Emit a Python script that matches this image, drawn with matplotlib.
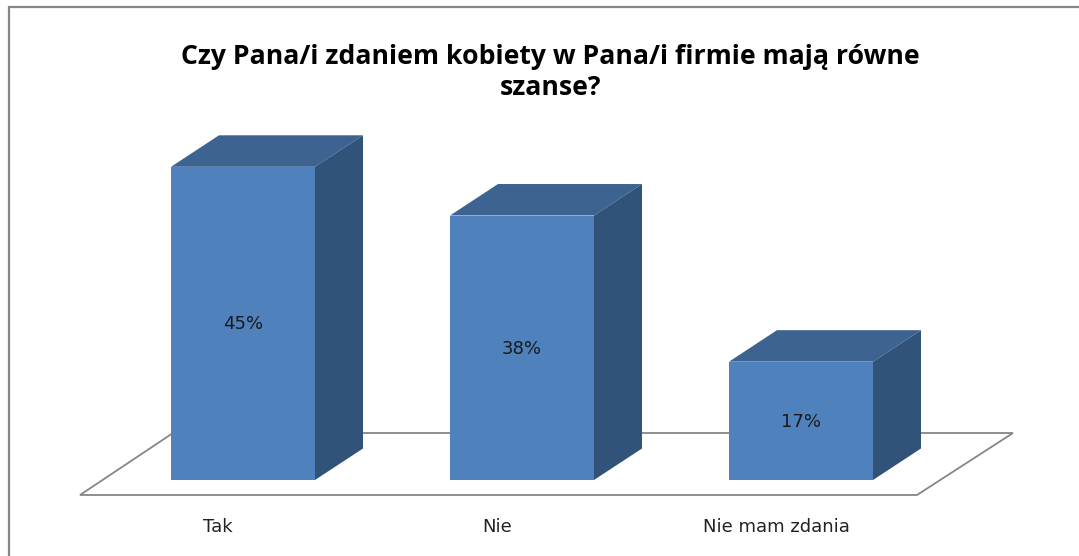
import matplotlib
matplotlib.use("Agg")
import matplotlib.pyplot as plt
from matplotlib.patches import Polygon

plt.rcParams["font.family"] = ["DejaVu Sans"]

# Values
categories = ["Tak", "Nie", "Nie mam zdania"]
values = [45, 38, 17]
title = "Czy Pana/i zdaniem kobiety w Pana/i firmie mają równe\nszanse?"

W, H = 1079, 556

# Scale: one category step = 279 px, one percent = 6.96 px
step_px = 279.0
unit_px = 6.96
x0_px = 243.0
y0_px = 480.0

bar_w = 144.0 / step_px
depth_x = 48.0 / step_px
depth_y = 31.5 / unit_px

FRONT = "#4f81bd"
TOP = "#3d6390"
SIDE = "#325379"
EDGE = "#868686"

fig = plt.figure(figsize=(W / 100, H / 100), dpi=100, facecolor="white")
ax = fig.add_axes([0, 0, 1, 1])
ax.set_xlim(-x0_px / step_px, (W - x0_px) / step_px)
ax.set_ylim(-(H - y0_px) / unit_px, y0_px / unit_px)
ax.axis("off")


def px(x, y):
    # pixel position of the picture -> data coordinates
    return (x - x0_px) / step_px, (y0_px - y) / unit_px


# Outer chart frame: only left and top show, the picture is cropped on the others
frame = [px(9, H + 5), px(9, 7), px(W + 5, 7)]
ax.plot(*zip(*frame), color=EDGE, lw=1.6, zorder=1, solid_joinstyle="miter")

# Floor of the 3D chart
floor = [px(80, 495), px(917, 495), px(1013, 433), px(173, 433)]
ax.add_patch(Polygon(floor, closed=True, fc="white", ec=EDGE, lw=1.3, zorder=2))

# Bars: front, top and side faces
for i, (cat, val) in enumerate(zip(categories, values)):
    l = i - bar_w / 2
    r = i + bar_w / 2
    front = [(l, 0), (r, 0), (r, val), (l, val)]
    top = [(l, val), (r, val), (r + depth_x, val + depth_y), (l + depth_x, val + depth_y)]
    side = [(r, 0), (r + depth_x, depth_y), (r + depth_x, val + depth_y), (r, val)]
    ax.add_patch(Polygon(front, closed=True, fc=FRONT, ec="none", zorder=3))
    ax.add_patch(Polygon(top, closed=True, fc=TOP, ec="none", zorder=3))
    ax.add_patch(Polygon(side, closed=True, fc=SIDE, ec="none", zorder=3))
    ax.text(i, val / 2 - 1 / unit_px, f"{val}%", ha="center", va="center",
            fontsize=13, color="#1a1a1a", zorder=4)
    ax.text(i - 25 / step_px, px(0, 527)[1], cat,
            ha="center", va="center", fontsize=13, color="#222222", zorder=4)

# Title
ax.text(*px(550, 72.5), title, ha="center", va="center", fontsize=19.2,
        fontweight="bold", family="Open Sans", color="black", linespacing=1.25, zorder=4)

fig.savefig("out.png", dpi=100)
plt.close(fig)
